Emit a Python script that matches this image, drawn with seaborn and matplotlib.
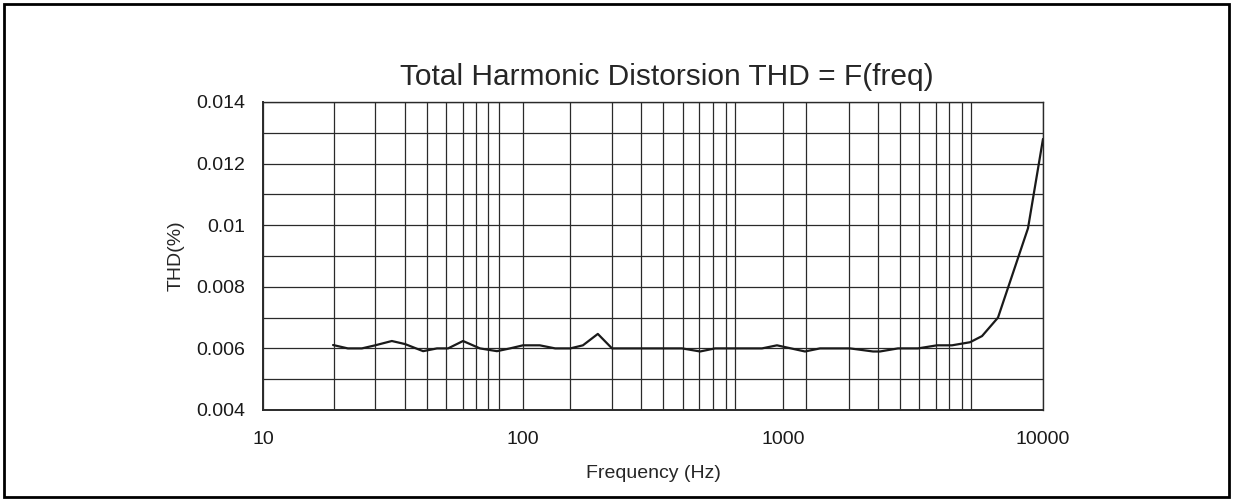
import numpy as np
import pandas as pd
import seaborn as sns
import matplotlib.pyplot as plt
from matplotlib.ticker import FixedLocator, NullFormatter

# Data
freq_hz = [18.6, 21.2, 24.0, 27.0, 31.3, 35.2, 41.3, 46.7, 51.5, 58.8,
           68.3, 79.4, 89.1, 100, 116, 133, 152, 170, 194, 220,
           282, 409, 480, 548, 830, 948, 1215, 1388, 1810, 2220,
           2361, 2769, 3305, 3911, 4467, 5239, 5828, 6713, 8756, 10000]
thd_pct = [0.00611, 0.0060, 0.0060, 0.0061, 0.00624, 0.00614, 0.00591, 0.0060, 0.0060, 0.00624,
           0.0060, 0.00591, 0.0060, 0.0061, 0.0061, 0.0060, 0.0060, 0.0061, 0.00647, 0.0060,
           0.0060, 0.0060, 0.0059, 0.0060, 0.0060, 0.0061, 0.0059, 0.0060, 0.0060, 0.0059,
           0.0059, 0.0060, 0.0060, 0.0061, 0.0061, 0.0062, 0.0064, 0.0070, 0.0099, 0.0128]

x_major = [10, 100, 1000, 10000]
x_major_labels = ['10', '100', '1000', '10000']
# vertical grid lines as they appear in the reference
x_grid = [18.8, 26.9, 35.2, 42.7, 50.5, 58.8, 65.9, 73.3, 80.9,
          152, 220, 284, 345, 412, 475, 538, 604, 653,
          1225, 1795, 2318, 2818, 3335, 3873, 4346, 4878, 5284]
y_major = [0.004, 0.006, 0.008, 0.01, 0.012, 0.014]
y_major_labels = ['0.004', '0.006', '0.008', '0.01', '0.012', '0.014']
y_grid = [0.005, 0.007, 0.009, 0.011, 0.013]

df = pd.DataFrame({'freq': freq_hz, 'thd': thd_pct})

sns.set_style('white')
plt.rcParams['font.family'] = ['Liberation Sans', 'DejaVu Sans']

fig = plt.figure(figsize=(12.33, 5), dpi=100)
ax = fig.add_axes([0.2133, 0.18, 0.6326, 0.616])

sns.lineplot(data=df, x='freq', y='thd', ax=ax, color='#1a1a1a', linewidth=1.6)

ax.set_xscale('log')
ax.set_xlim(10, 10000)
ax.set_ylim(0.004, 0.014)

ax.xaxis.set_major_locator(FixedLocator(x_major))
ax.set_xticklabels(x_major_labels)
ax.xaxis.set_minor_locator(FixedLocator(x_grid))
ax.xaxis.set_minor_formatter(NullFormatter())
ax.yaxis.set_major_locator(FixedLocator(y_major))
ax.set_yticklabels(y_major_labels)
ax.yaxis.set_minor_locator(FixedLocator(y_grid))

ax.grid(True, which='both', color='#2a2a2a', linewidth=0.9)
ax.tick_params(which='both', length=0, labelsize=14, colors='#1a1a1a')
ax.tick_params(axis='y', pad=13)
ax.tick_params(axis='x', pad=15)
for s in ax.spines.values():
    s.set_color('#2a2a2a')
    s.set_linewidth(1.0)
ax.spines['left'].set_linewidth(1.4)
ax.spines['bottom'].set_linewidth(1.4)

ax.set_xlabel('Frequency (Hz)', fontsize=14, labelpad=12)
ax.set_ylabel('THD(%)', fontsize=14, labelpad=8)
ax.set_title('Total Harmonic Distorsion THD = F(freq)', fontsize=21.5, pad=12, x=0.518)

# frame around the whole picture
fig.add_artist(plt.Rectangle((0.0032, 0.006), 0.9936, 0.986, transform=fig.transFigure,
                             fill=False, edgecolor='black', linewidth=2))

fig.savefig('out.png', dpi=100)
